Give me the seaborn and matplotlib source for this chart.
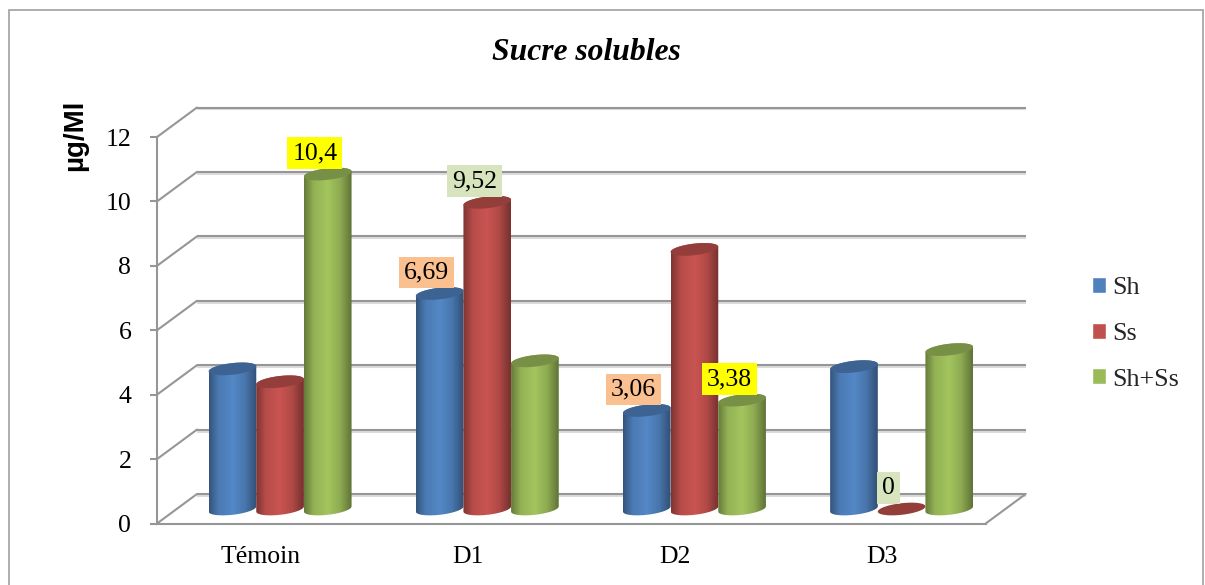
import numpy as np
import pandas as pd
import matplotlib
matplotlib.use("Agg")
import matplotlib.pyplot as plt
import seaborn as sns
from matplotlib.colors import to_rgb
from matplotlib.patches import Polygon, Rectangle
from matplotlib.path import Path
from matplotlib.patheffects import SimpleLineShadow, Normal

# Data
categories = ["Témoin", "D1", "D2", "D3"]
series_names = ["Sh", "Ss", "Sh+Ss"]
sh_values = [4.35, 6.69, 3.06, 4.42]
ss_values = [3.95, 9.52, 8.06, 0]
sh_ss_values = [10.4, 4.6, 3.38, 4.95]
y_ticks = [0, 2, 4, 6, 8, 10, 12]

# Labelled bars: (series, category, label background)
labelled_bars = [
    ("Sh+Ss", "Témoin", "#FFFF00"),
    ("Ss", "D1", "#D7E4BD"),
    ("Sh", "D1", "#FAC090"),
    ("Sh", "D2", "#FAC090"),
    ("Sh+Ss", "D2", "#FFFF00"),
    ("Ss", "D3", "#D7E4BD"),
]

palette = ["#4F81BD", "#C0504D", "#9BBB59"]
GREY = "#969696"
FONT = 18.5

# Figure geometry, in pixels
W, H = 1205, 585
FRONT_L, FRONT_R, FRONT_B, FRONT_T = 157, 985.7, 523.5, 137
DEPTH_X, DEPTH_Y = 40, 29.5
BAR_DX, BAR_DY = 19.5, 14.5
ELL_B, ELL_TILT = 5.8, 2.6

sns.set_theme(style="white")
plt.rcParams["font.family"] = ["Liberation Serif"]

df = pd.DataFrame({
    "category": categories * 3,
    "series": [s for s in series_names for _ in categories],
    "value": sh_values + ss_values + sh_ss_values,
})

fig = plt.figure(figsize=(W / 100, H / 100), dpi=100, facecolor="white")
plot_w = FRONT_R - FRONT_L
px_per_unit = (FRONT_B - FRONT_T) / 12
px_per_cat = plot_w / 4

# Front axes carry the ticks; the wall and floor are drawn in its data units
ax = fig.add_axes([FRONT_L / W, 1 - FRONT_B / H, plot_w / W, (FRONT_B - FRONT_T) / H])
ax.set_facecolor("none")
ax.set_xlim(-0.5, 3.5)
ax.set_ylim(0, 12)
ax.set_xticks(range(4), categories)
ax.set_yticks(y_ticks)
ax.tick_params(axis="y", length=5, width=1.5, color=GREY, labelsize=FONT, pad=13.5, left=True)
ax.tick_params(axis="x", length=0, labelsize=FONT, pad=16.5)
for lab in ax.get_xticklabels() + ax.get_yticklabels():
    lab.set_color("black")
sns.despine(ax=ax)
for side in ("left", "bottom"):
    ax.spines[side].set_color(GREY)
    ax.spines[side].set_linewidth(1.5)

dx = DEPTH_X / px_per_cat
dy = DEPTH_Y / px_per_unit
shadow = [SimpleLineShadow(offset=(0, -1.4), shadow_color="#c4c4c4", alpha=0.6), Normal()]
for v in y_ticks:
    ax.plot([-0.5 + dx, 3.5 + dx], [v + dy, v + dy], color=GREY, lw=1.5, clip_on=False,
            path_effects=shadow, solid_capstyle="butt")
    ax.plot([-0.5, -0.5 + dx], [v, v + dy], color=GREY, lw=1.5, clip_on=False)
ax.plot([3.5, 3.5 + dx], [0, dy], color=GREY, lw=1.5, clip_on=False)

ax.set_ylabel("µg/Ml", fontsize=20, fontweight="bold", family="Liberation Sans", color="black")
ax.yaxis.set_label_coords((88 - FRONT_L) / plot_w, 1.004)

# Bars sit on a plane halfway into the floor
bar_base = FRONT_B - BAR_DY
bax = fig.add_axes([
    (FRONT_L + BAR_DX) / W,
    1 - (bar_base + px_per_unit) / H,
    plot_w / W,
    (FRONT_B - FRONT_T + px_per_unit) / H,
])
sns.barplot(data=df, x="category", y="value", hue="series", order=categories,
            hue_order=series_names, palette=palette, saturation=1, width=0.69,
            errorbar=None, ax=bax)
bax.set_xlim(-0.5, 3.5)
bax.set_ylim(-1, 12)
bax.set_axis_off()
bax.patch.set_alpha(0)


def ellipse_points(cx, cy, a, t):
    """Points of a slightly tilted ellipse, in the data units of the bar axes."""
    b = ELL_B / px_per_unit
    tilt = ELL_TILT / px_per_unit
    return np.column_stack([cx + a * np.cos(t), cy + b * np.sin(t) + tilt * np.cos(t)])


stops_t = [0, 0.2, 0.5, 0.75, 1]
stops_f = [0.66, 0.95, 1.05, 0.92, 0.62]
shade = np.linspace(0, 1, 64)
tops = {}
for s_idx, (name, container, color) in enumerate(zip(series_names, bax.containers, palette)):
    base = np.array(to_rgb(color))
    gradient = np.clip(np.outer(np.interp(shade, stops_t, stops_f), base), 0, 1)[None, :, :]
    for cat, bar in zip(categories, container):
        bar.set_visible(False)
        x0, w, h = bar.get_x(), bar.get_width(), bar.get_height()
        cx, a = x0 + w / 2, w / 2
        z = 3 + s_idx
        if h > 0:
            lower = ellipse_points(cx, 0, a, np.linspace(np.pi, 2 * np.pi, 40))
            upper = ellipse_points(cx, h, a, np.linspace(0, np.pi, 40))
            outline = np.vstack([lower, upper, lower[:1]])
            im = bax.imshow(gradient, extent=(x0, x0 + w, -1, h + 1), aspect="auto",
                            interpolation="bilinear", zorder=z)
            im.set_clip_path(Path(outline), bax.transData)
        bax.add_patch(Polygon(ellipse_points(cx, h, a, np.linspace(0, 2 * np.pi, 80)),
                              closed=True, facecolor=base * 0.77, edgecolor="none", zorder=z))
        tops[(name, cat)] = (cx, h)
bax.set_xlim(-0.5, 3.5)
bax.set_ylim(-1, 12)

for name, cat, bg in labelled_bars:
    cx, h = tops[(name, cat)]
    bax.annotate(f"{h:g}".replace(".", ","), xy=(cx, h), xytext=(-13, 21),
                 textcoords="offset pixels", ha="center", va="center", fontsize=FONT,
                 color="black", zorder=10,
                 bbox=dict(boxstyle="square,pad=0.19", facecolor=bg, edgecolor="none"))

sns.move_legend(bax, "upper left", bbox_to_anchor=(1086.5 / W, 1 - 272 / H),
                bbox_transform=fig.transFigure, frameon=False, title=None,
                fontsize=18.8, handlelength=0.55, handleheight=0.55,
                labelspacing=0.9, handletextpad=0.24, borderpad=0.2, borderaxespad=0)

fig.suptitle("Sucre solubles", x=586 / W, y=1 - 53 / H, va="center", ha="center",
             fontsize=22.8, fontweight="bold", fontstyle="italic", color="black")

# Outer chart frame, running off the bottom edge
fig.add_artist(Rectangle((9 / W, -10 / H), (1203 - 9) / W, (H - 10 + 10) / H,
                         transform=fig.transFigure, facecolor="none",
                         edgecolor="#A0A0A0", lw=1.2))

fig.savefig("out.png", dpi=100, facecolor="white")
